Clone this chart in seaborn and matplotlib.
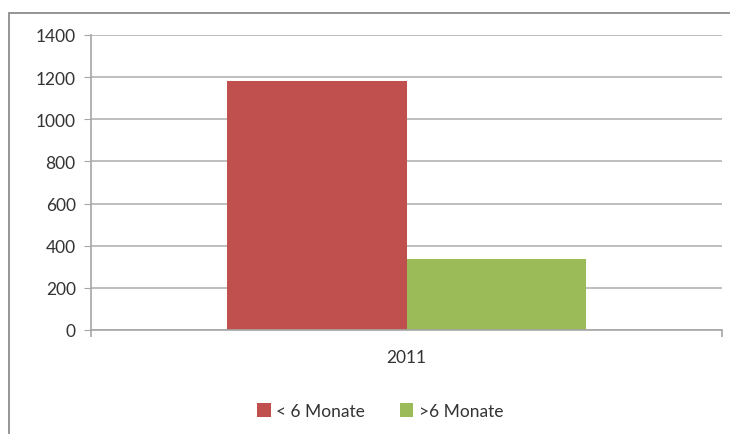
import seaborn as sns
import matplotlib.pyplot as plt
import pandas as pd
from matplotlib.patches import Rectangle

# Daten
jahre = ['2011', '2011']
gruppen = ['< 6 Monate', '>6 Monate']
werte = [1181, 335]
farben = ['#c0504d', '#9bbb59']

df = pd.DataFrame({'Jahr': jahre, 'Gruppe': gruppen, 'Anzahl': werte})

sns.set_style('white')
plt.rcParams['font.family'] = ['Lato', 'DejaVu Sans']

fig = plt.figure(figsize=(7.3, 4.35), dpi=100)
ax = fig.add_axes([91 / 730, 1 - 331 / 435, (722 - 91) / 730, (331 - 36) / 435])

sns.barplot(data=df, x='Jahr', y='Anzahl', hue='Gruppe', palette=farben,
            width=0.57, saturation=1, linewidth=0, ax=ax, legend=True)

ax.set_ylim(0, 1400)
ax.set_yticks(range(0, 1401, 200))
ax.set_xlim(-0.5, 0.5)
ax.set_xlabel('')
ax.set_ylabel('')
ax.yaxis.grid(True, color='#b3b3b3', linewidth=1.2)
ax.set_axisbelow(True)
for s in ['top', 'right']:
    ax.spines[s].set_visible(False)
for s in ['left', 'bottom']:
    ax.spines[s].set_color('#a6a6a6')
    ax.spines[s].set_linewidth(1.2)
ax.tick_params(axis='y', length=5, color='#a6a6a6', labelsize=12.5, labelcolor='#333333', left=True, pad=6)
ax.tick_params(axis='x', length=0, labelsize=12.5, labelcolor='#333333', pad=14)

# Kategorie-Grenzen als kleine Striche
ax.set_xticks([-0.5, 0.5], minor=True)
ax.tick_params(axis='x', which='minor', length=5, color='#a6a6a6', width=1.2, bottom=True)

ax.legend(loc='center', bbox_to_anchor=(380 / 730, 1 - 412 / 435), bbox_transform=fig.transFigure,
          ncol=2, frameon=False, fontsize=12.5, handlelength=0.8, handleheight=0.8,
          handletextpad=0.3, columnspacing=2.0, labelcolor='#333333')

# Rahmen
fig.patches.append(Rectangle((9 / 730, -0.1), 1.2, 1 - 14 / 435 + 0.1, transform=fig.transFigure,
                             fill=False, edgecolor='#8c8c8c', linewidth=1.3))

fig.savefig('out.png', dpi=100)
